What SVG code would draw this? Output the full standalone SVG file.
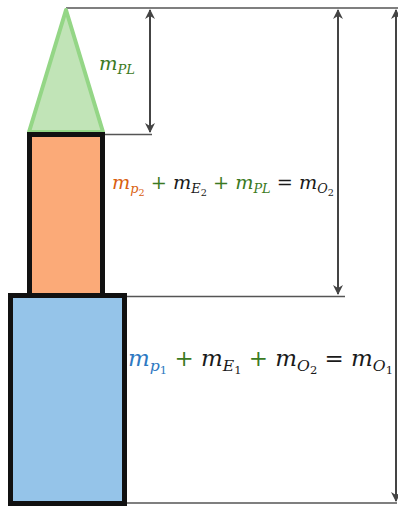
<svg xmlns="http://www.w3.org/2000/svg" width="398" height="506" viewBox="0 0 398 506">
<style>
.ln{stroke:#555;stroke-width:1.3;fill:none}
.ar{stroke:#444;stroke-width:2;fill:none;marker-start:url(#ah);marker-end:url(#ah)}
.m{font-family:"DejaVu Serif",serif;font-style:italic}
.n{font-style:normal}
.g{fill:#3b7a22}.k{fill:#1a1a1a}.o{fill:#d9600f}.b{fill:#2e79c2}
</style>
<defs>
<marker id="ah" viewBox="0 0 10 10" refX="9" refY="5" markerWidth="5" markerHeight="5" orient="auto-start-reverse" markerUnits="strokeWidth">
<path d="M0,0 L10,5 L0,10 L3,5 Z" fill="#444"/>
</marker>
</defs>
<rect width="398" height="506" fill="#fff"/>
<g id="connectors">
<line class="ln" x1="66" y1="8" x2="398" y2="8"/>
<line class="ln" x1="105" y1="134.5" x2="152" y2="134.5"/>
<line class="ln" x1="127" y1="296.5" x2="345" y2="296.5"/>
<line class="ln" x1="127" y1="503" x2="397" y2="503"/>
<line class="ar" x1="150" y1="10" x2="150" y2="132"/>
<line class="ar" x1="338" y1="10" x2="338" y2="294"/>
<line class="ar" x1="396" y1="10" x2="396" y2="501"/>
</g>
<g id="payload">
<polygon points="66,10 29,132 103,132" fill="#c1e4b7" stroke="#94d686" stroke-width="4" stroke-linejoin="round"/>
</g>
<g id="stage2">
<rect x="29.5" y="134.5" width="73" height="161" fill="#fbaa78" stroke="#111" stroke-width="5"/>
</g>
<g id="stage1">
<rect x="10.5" y="295.5" width="114" height="208" fill="#95c4e9" stroke="#111" stroke-width="5"/>
</g>
<g id="labels">
<text class="m g" x="99" y="70" font-size="18" textLength="36" lengthAdjust="spacingAndGlyphs">m<tspan font-size="12" dy="4">PL</tspan></text>
<text class="m" x="112" y="189" font-size="18" textLength="222" lengthAdjust="spacingAndGlyphs"><tspan class="o">m</tspan><tspan class="o" font-size="12" dy="4">p<tspan class="n" font-size="9" dy="3">2</tspan></tspan><tspan class="g n" dy="-7"> + </tspan><tspan class="k">m</tspan><tspan class="k" font-size="12" dy="4">E<tspan class="n" font-size="9" dy="3">2</tspan></tspan><tspan class="g n" dy="-7"> + </tspan><tspan class="g">m</tspan><tspan class="g" font-size="12" dy="4">PL</tspan><tspan class="k n" dy="-4"> = </tspan><tspan class="k">m</tspan><tspan class="k" font-size="12" dy="4">O<tspan class="n" font-size="9" dy="3">2</tspan></tspan></text>
<text class="m" x="128" y="366" font-size="22" textLength="265" lengthAdjust="spacingAndGlyphs"><tspan class="b">m</tspan><tspan class="b" font-size="15" dy="5">p<tspan class="n" font-size="11" dy="3">1</tspan></tspan><tspan class="g n" dy="-8"> + </tspan><tspan class="k">m</tspan><tspan class="k" font-size="15" dy="5">E<tspan class="n" font-size="11" dy="3">1</tspan></tspan><tspan class="g n" dy="-8"> + </tspan><tspan class="k">m</tspan><tspan class="k" font-size="15" dy="5">O<tspan class="n" font-size="11" dy="3">2</tspan></tspan><tspan class="k n" dy="-8"> = </tspan><tspan class="k">m</tspan><tspan class="k" font-size="15" dy="5">O<tspan class="n" font-size="11" dy="3">1</tspan></tspan></text>
</g>
</svg>
